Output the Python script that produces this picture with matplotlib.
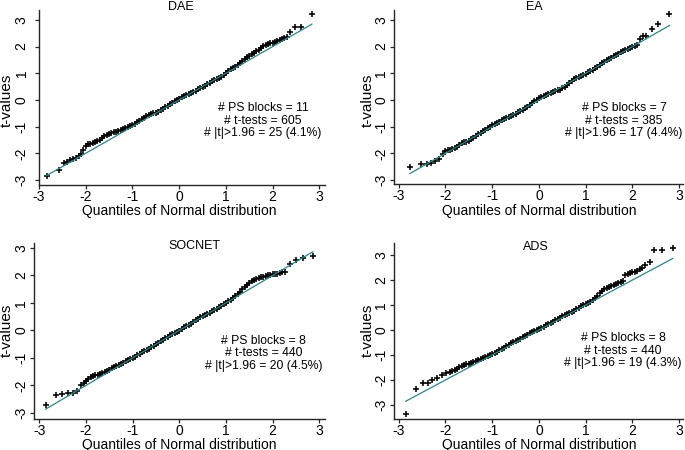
import matplotlib
matplotlib.use("Agg")
import matplotlib.pyplot as plt

W, H = 685, 450

# ---------------- data ----------------
titles = ["DAE", "EA", "SOCNET", "ADS"]
ps_blocks = [11, 7, 8, 8]
n_tests = [605, 385, 440, 440]
n_sig = [25, 17, 20, 19]
pct_sig = [4.1, 4.4, 4.5, 4.3]
axis_ticks = [-3, -2, -1, 0, 1, 2, 3]
ref_slope = 1.0
ref_intercept = 0.0

dae_q = [-2.83, -2.58, -2.47, -2.40, -2.33, -2.27, -2.20, -2.14,
         -2.10, -2.05, -2.00, -1.95, -1.90, -1.85, -1.80, -1.75, -1.70, -1.65,
         -1.60, -1.55, -1.50, -1.45, -1.40, -1.35, -1.30, -1.25, -1.20, -1.15,
         -1.10, -1.05, -1.00, -0.95, -0.90, -0.85, -0.80, -0.75, -0.70, -0.65,
         -0.60, -0.55, -0.50, -0.45, -0.40, -0.35, -0.30, -0.25, -0.20, -0.15,
         -0.10, -0.05, 0.00, 0.05, 0.10, 0.15, 0.20, 0.25, 0.30, 0.35,
         0.40, 0.45, 0.50, 0.55, 0.60, 0.65, 0.70, 0.75, 0.80, 0.85,
         0.90, 0.95, 1.00, 1.05, 1.10, 1.15, 1.20, 1.25, 1.30, 1.35,
         1.40, 1.45, 1.50, 1.55, 1.60, 1.65, 1.70, 1.75, 1.80, 1.85,
         1.90, 1.95, 2.00, 2.05, 2.10, 2.15, 2.20, 2.25, 2.30,
         2.38, 2.48, 2.61, 2.84]
dae_t = [-2.84, -2.62, -2.35, -2.32, -2.27, -2.23, -2.17, -2.12,
         -2.02, -1.87, -1.73, -1.67, -1.64, -1.61, -1.58, -1.55, -1.49, -1.43,
         -1.36, -1.30, -1.27, -1.25, -1.22, -1.19, -1.16, -1.13, -1.10, -1.07,
         -1.03, -0.99, -0.95, -0.90, -0.84, -0.78, -0.72, -0.66, -0.61, -0.57,
         -0.53, -0.50, -0.48, -0.45, -0.39, -0.33, -0.27, -0.21, -0.16, -0.10,
         -0.05, 0.00, 0.05, 0.10, 0.14, 0.18, 0.22, 0.26, 0.30, 0.35,
         0.39, 0.44, 0.48, 0.53, 0.59, 0.65, 0.70, 0.73, 0.77, 0.81,
         0.85, 0.92, 1.00, 1.08, 1.15, 1.20, 1.25, 1.30, 1.37, 1.45,
         1.52, 1.59, 1.65, 1.71, 1.77, 1.82, 1.87, 1.94, 2.01, 2.07,
         2.09, 2.12, 2.15, 2.18, 2.21, 2.24, 2.27, 2.31, 2.35,
         2.55, 2.72, 2.72, 3.22]

ea_q = [-2.76, -2.53, -2.40, -2.31, -2.23, -2.14, -2.05,
        -2.00, -1.95, -1.90, -1.85, -1.80, -1.75, -1.70, -1.65, -1.60, -1.55,
        -1.50, -1.45, -1.40, -1.35, -1.30, -1.25, -1.20, -1.15, -1.10, -1.05,
        -1.00, -0.95, -0.90, -0.85, -0.80, -0.75, -0.70, -0.65, -0.60, -0.55,
        -0.50, -0.45, -0.40, -0.35, -0.30, -0.25, -0.20, -0.15, -0.10, -0.05,
        0.00, 0.05, 0.10, 0.15, 0.20, 0.25, 0.30, 0.35, 0.40, 0.45,
        0.50, 0.55, 0.60, 0.65, 0.70, 0.75, 0.80, 0.85, 0.90, 0.95,
        1.00, 1.05, 1.10, 1.15, 1.20, 1.25, 1.30, 1.35, 1.40, 1.45,
        1.50, 1.55, 1.60, 1.65, 1.70, 1.75, 1.80, 1.85, 1.90, 1.95,
        2.00, 2.05, 2.10,
        2.15, 2.23, 2.29, 2.41, 2.55, 2.79]
ea_t = [-2.50, -2.40, -2.40, -2.35, -2.28, -2.20, -2.04,
        -1.92, -1.89, -1.86, -1.83, -1.80, -1.77, -1.70, -1.62, -1.58, -1.57,
        -1.55, -1.48, -1.41, -1.35, -1.29, -1.23, -1.17, -1.12, -1.06, -1.00,
        -0.94, -0.89, -0.85, -0.81, -0.77, -0.73, -0.68, -0.64, -0.60, -0.56,
        -0.52, -0.47, -0.42, -0.37, -0.31, -0.25, -0.18, -0.11, -0.05, 0.01,
        0.06, 0.10, 0.14, 0.19, 0.23, 0.27, 0.30, 0.33, 0.36, 0.39,
        0.43, 0.50, 0.57, 0.65, 0.72, 0.77, 0.81, 0.85, 0.90, 0.95,
        0.99, 1.04, 1.08, 1.13, 1.18, 1.24, 1.30, 1.37, 1.43, 1.49,
        1.54, 1.59, 1.63, 1.68, 1.73, 1.78, 1.82, 1.86, 1.90, 1.94,
        1.98, 2.01, 2.06,
        2.27, 2.40, 2.40, 2.66, 2.84, 3.22]

socnet_q = [-2.86, -2.64, -2.50, -2.38, -2.28, -2.18,
            -2.10, -2.05, -2.00, -1.95, -1.90, -1.85, -1.80, -1.75, -1.70, -1.65,
            -1.60, -1.55, -1.50, -1.45, -1.40, -1.35, -1.30, -1.25, -1.20, -1.15,
            -1.10, -1.05, -1.00, -0.95, -0.90, -0.85, -0.80, -0.75, -0.70, -0.65,
            -0.60, -0.55, -0.50, -0.45, -0.40, -0.35, -0.30, -0.25, -0.20, -0.15,
            -0.10, -0.05, 0.00, 0.05, 0.10, 0.15, 0.20, 0.25, 0.30, 0.35,
            0.40, 0.45, 0.50, 0.55, 0.60, 0.65, 0.70, 0.75, 0.80, 0.85,
            0.90, 0.95, 1.00, 1.05, 1.10, 1.15, 1.20, 1.25, 1.30, 1.35,
            1.40, 1.45, 1.50, 1.55, 1.60, 1.65, 1.70, 1.75, 1.80, 1.85,
            1.90, 1.95, 2.00, 2.05, 2.10, 2.15, 2.20,
            2.26, 2.38, 2.50, 2.64, 2.86]
socnet_t = [-2.72, -2.35, -2.32, -2.28, -2.28, -2.19,
            -1.98, -1.90, -1.83, -1.77, -1.71, -1.66, -1.63, -1.61, -1.58, -1.54,
            -1.50, -1.46, -1.42, -1.37, -1.33, -1.29, -1.25, -1.21, -1.17, -1.12,
            -1.08, -1.04, -1.00, -0.96, -0.91, -0.85, -0.80, -0.76, -0.72, -0.67,
            -0.61, -0.55, -0.50, -0.44, -0.38, -0.33, -0.27, -0.22, -0.18, -0.14,
            -0.10, -0.06, -0.01, 0.05, 0.11, 0.16, 0.20, 0.25, 0.31, 0.37,
            0.43, 0.49, 0.53, 0.57, 0.61, 0.65, 0.70, 0.75, 0.79, 0.84,
            0.89, 0.95, 1.00, 1.06, 1.12, 1.18, 1.24, 1.32, 1.40, 1.49,
            1.58, 1.66, 1.73, 1.79, 1.83, 1.87, 1.90, 1.93, 1.96, 1.98,
            2.00, 2.02, 2.04, 2.05, 2.06, 2.08, 2.11,
            2.14, 2.42, 2.56, 2.62, 2.70]

ads_q = [-2.85, -2.62, -2.47, -2.37, -2.28, -2.19, -2.08, -1.98,
         -1.90, -1.85, -1.80, -1.75, -1.70, -1.65, -1.60, -1.55, -1.50, -1.45,
         -1.40, -1.35, -1.30, -1.25, -1.20, -1.15, -1.10, -1.05, -1.00, -0.95,
         -0.90, -0.85, -0.80, -0.75, -0.70, -0.65, -0.60, -0.55, -0.50, -0.45,
         -0.40, -0.35, -0.30, -0.25, -0.20, -0.15, -0.10, -0.05, 0.00, 0.05,
         0.10, 0.15, 0.20, 0.25, 0.30, 0.35, 0.40, 0.45, 0.50, 0.55,
         0.60, 0.65, 0.70, 0.75, 0.80, 0.85, 0.90, 0.95, 1.00, 1.05,
         1.10, 1.15, 1.20, 1.25, 1.30, 1.35, 1.40, 1.45, 1.50, 1.55,
         1.60, 1.65, 1.70, 1.75, 1.80, 1.85, 1.90, 1.95, 2.00, 2.05,
         2.10, 2.15, 2.20,
         2.27, 2.37, 2.46, 2.63, 2.86]
ads_t = [-3.35, -2.35, -2.10, -2.10, -2.00, -1.91, -1.79, -1.70,
         -1.68, -1.65, -1.60, -1.54, -1.47, -1.43, -1.40, -1.37, -1.34, -1.30,
         -1.26, -1.22, -1.18, -1.14, -1.10, -1.06, -1.02, -0.98, -0.94, -0.90,
         -0.86, -0.81, -0.76, -0.70, -0.64, -0.58, -0.53, -0.49, -0.45, -0.40,
         -0.35, -0.29, -0.23, -0.18, -0.12, -0.07, -0.03, 0.01, 0.05, 0.10,
         0.14, 0.19, 0.23, 0.28, 0.33, 0.39, 0.44, 0.50, 0.55, 0.60,
         0.64, 0.68, 0.73, 0.78, 0.84, 0.90, 0.96, 1.00, 1.05, 1.09,
         1.14, 1.19, 1.27, 1.37, 1.47, 1.56, 1.63, 1.68, 1.72, 1.76,
         1.80, 1.83, 1.87, 1.92, 1.98, 2.21, 2.25, 2.28, 2.31, 2.34,
         2.38, 2.43, 2.48,
         2.60, 2.73, 3.20, 3.20, 3.27]

series = [(dae_q, dae_t), (ea_q, ea_t), (socnet_q, socnet_t), (ads_q, ads_t)]

# ---------------- layout (pixels) ----------------
boxes = [(39, 10, 325, 185), (394, 10, 683, 184),
         (34, 243, 325, 419), (394, 243, 683, 419)]
xlims = [(-3.00, 3.12), (-3.10, 3.08), (-3.11, 3.12), (-3.10, 3.08)]
ylims = [(-3.19, 3.37), (-3.15, 3.37), (-3.22, 3.18), (-3.56, 3.48)]
ytick_pad = [4.5, 1.2, 1.2, 1.2]
title_pos = [(181, 7), (534, 7), (194, 246), (536, 247)]
note_pos = [(263, 108), (624, 108), (263.5, 341), (623, 338)]
xlabel_base = [215, 215, 448.5, 448.5]   # baseline y of x-axis title
ylabel_cx = [7, 368, 7, 368]            # centre x of y-axis title

plt.rcParams['font.family'] = ['Liberation Sans', 'DejaVu Sans']
fig = plt.figure(figsize=(W / 100, H / 100), dpi=100)
fig.patch.set_facecolor('white')

line_color = '#2a8782'
axis_color = '#262626'

for i in range(4):
    l, t, r, b = boxes[i]
    wpx, hpx = r - l, b - t
    ax = fig.add_axes([l / W, 1 - b / H, wpx / W, hpx / H])
    q, tv = series[i]
    ax.plot(q, tv, linestyle='none', marker='+', color='black',
            markersize=5.0, markeredgewidth=1.15, zorder=2)
    qmin, qmax = min(q), max(q)
    ax.plot([qmin, qmax], [ref_intercept + ref_slope * qmin, ref_intercept + ref_slope * qmax],
            color=line_color, linewidth=0.9, zorder=3)
    ax.set_xlim(*xlims[i])
    ax.set_ylim(*ylims[i])
    ax.set_xticks(axis_ticks)
    ax.set_yticks(axis_ticks)
    ax.set_xticklabels([str(v) for v in axis_ticks], fontsize=10)
    ax.set_yticklabels([str(v) for v in axis_ticks], fontsize=10, rotation=90, va='center')
    for s in ['top', 'right']:
        ax.spines[s].set_visible(False)
    for s in ['left', 'bottom']:
        ax.spines[s].set_color(axis_color)
        ax.spines[s].set_linewidth(1.0)
    ax.tick_params(direction='out', length=3.0, width=0.9, color=axis_color,
                   labelcolor='black')
    ax.tick_params(axis='x', pad=0.5)
    ax.tick_params(axis='y', pad=ytick_pad[i])
    ax.set_facecolor('none')

    # axis titles, centred on the data origin as in the reference
    x0_frac = (0 - xlims[i][0]) / (xlims[i][1] - xlims[i][0])
    y0_frac = (0 - ylims[i][0]) / (ylims[i][1] - ylims[i][0])
    ax.set_xlabel('Quantiles of Normal distribution', fontsize=10, va='baseline', ha='center')
    ax.xaxis.set_label_coords(x0_frac, -(xlabel_base[i] - b) / hpx)
    ax.set_ylabel('t-values', fontsize=11, va='center', ha='center')
    ax.yaxis.set_label_coords((ylabel_cx[i] - l) / wpx, y0_frac)

    tx, ty = title_pos[i]
    fig.text(tx / W, 1 - ty / H, titles[i], ha='center', va='center', fontsize=9)
    nx, ny = note_pos[i]
    lines = ['# PS blocks = %d' % ps_blocks[i],
             '# t-tests = %d' % n_tests[i],
             '# |t|>1.96 = %d (%.1f%%)' % (n_sig[i], pct_sig[i])]
    for k, txt in enumerate(lines):
        fig.text(nx / W, 1 - (ny + 12.5 * k) / H, txt, ha='center', va='center',
                 fontsize=8.7)

fig.savefig('out.png', dpi=100, facecolor='white')
